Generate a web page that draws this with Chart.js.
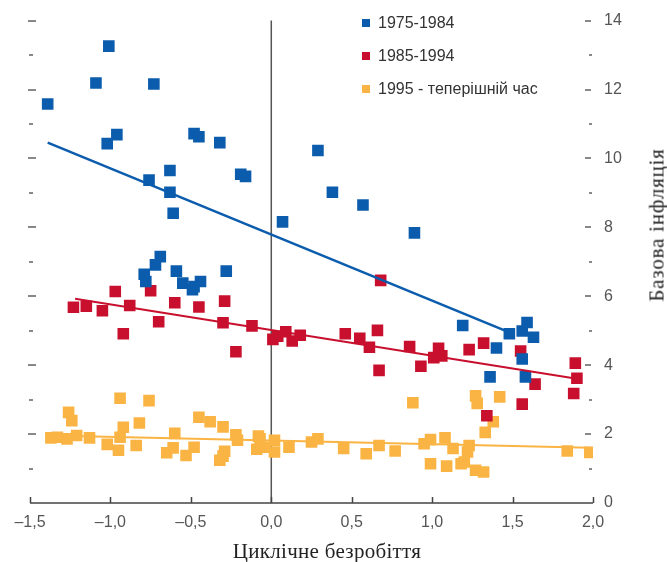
<!DOCTYPE html>
<html>
<head>
<meta charset="utf-8">
<script src="https://cdn.jsdelivr.net/npm/chart.js@4.4.1/dist/chart.umd.min.js"></script>
<style>
  html, body { margin: 0; padding: 0; background: #fff; }
  #wrap { position: relative; width: 667px; height: 562px; }
  .legend { position: absolute; left: 362px; top: 14px; font: 16px "Liberation Sans", Arial, sans-serif; color: #333; }
  .legend div { height: 33px; line-height: 18px; white-space: nowrap; }
  .legend span { display: inline-block; width: 8px; height: 8px; margin-right: 8px; vertical-align: 1px; }
  .xtitle { position: absolute; left: 0; width: 654px; top: 539px; text-align: center; font: 21px "Liberation Serif", "Times New Roman", serif; letter-spacing: 0.3px; color: #222; }
  .ytitle { position: absolute; left: 657px; top: 225px; transform: translate(-50%, -50%) rotate(-90deg); white-space: nowrap; font: 21px "Liberation Serif", "Times New Roman", serif; letter-spacing: 0.8px; color: #222; }
</style>
</head>
<body>
<div id="wrap">
  <canvas id="chart"></canvas>
  <div class="legend">
    <div><span style="background:#0b5cad"></span>1975-1984</div>
    <div><span style="background:#c8102e"></span>1985-1994</div>
    <div><span style="background:#fab444"></span>1995 - теперішній час</div>
  </div>
  <div class="xtitle">Циклічне безробіття</div>
  <div class="ytitle">Базова інфляція</div>
</div>
<script>
// 1975-1984
const blueX = [-1.39, -1.01, -1.09, -0.73, -1.02, -0.96, -0.48, -0.45, -0.32, -0.76, -0.63, -0.63, -0.61, -0.19, -0.16,
  0.29, 0.38, 0.57, 0.07, 0.89, -0.69, -0.72, -0.79, -0.78, -0.59, -0.55, -0.49, -0.48, -0.44, -0.28,
  1.19, 1.48, 1.59, 1.56, 1.63, 1.40, 1.56, 1.36, 1.58];
const blueY = [11.58, 13.26, 12.19, 12.16, 10.43, 10.69, 10.72, 10.63, 10.46, 9.37, 9.65, 9.02, 8.41, 9.54, 9.48,
  10.23, 9.02, 8.65, 8.16, 7.84, 7.15, 6.91, 6.64, 6.43, 6.73, 6.38, 6.19, 6.28, 6.43, 6.73,
  5.15, 4.91, 5.24, 4.99, 4.81, 4.50, 4.18, 3.66, 3.66];

// 1985-1994
const redX = [-1.23, -1.15, -1.05, -0.97, -0.88, -0.92, -0.75, -0.70, -0.60, -0.45, -0.29, -0.30, -0.12, -0.22,
  0.01, 0.04, 0.09, 0.13, 0.18, 0.46, 0.55, 0.61, 0.66, 0.67, 0.68, 0.86, 0.93, 1.04, 1.01, 1.06,
  1.23, 1.32, 1.55, 1.64, 1.56, 1.34, 1.89, 1.90, 1.88];
const redY = [5.68, 5.71, 5.58, 6.14, 5.73, 4.91, 6.16, 5.26, 5.81, 5.69, 5.86, 5.23, 5.14, 4.39,
  4.75, 4.84, 4.97, 4.70, 4.87, 4.91, 4.78, 4.52, 5.01, 3.85, 6.46, 4.54, 3.97, 4.49, 4.22, 4.27,
  4.45, 4.64, 4.41, 3.45, 2.87, 2.53, 4.06, 3.62, 3.18];

// 1995 - now
const yellowX = [-1.37, -1.33, -1.27, -1.26, -1.24, -1.21, -1.13, -1.02, -0.95, -0.94, -0.92, -0.94, -0.84, -0.82,
  -0.76, -0.65, -0.60, -0.61, -0.53, -0.48, -0.45, -0.38, -0.30, -0.29, -0.32, -0.30, -0.22, -0.21,
  -0.08, -0.09, -0.07, -0.04, 0.02, 0.02, 0.11, 0.25, 0.29, 0.45, 0.59, 0.67, 0.77, 0.88, 0.95,
  0.99, 0.99, 1.08, 1.09, 1.13, 1.18, 1.20, 1.22, 1.23, 1.27, 1.28, 1.27, 1.32, 1.33, 1.38, 1.42, 1.84, 1.98];
const yellowY = [1.89, 1.91, 1.86, 2.63, 2.39, 1.96, 1.89, 1.70, 1.53, 3.04, 2.20, 1.91, 1.67, 2.32,
  2.97, 1.46, 2.02, 1.60, 1.38, 1.62, 2.49, 2.36, 2.21, 1.50, 1.24, 1.36, 1.98, 1.82,
  1.94, 1.56, 1.86, 1.62, 1.82, 1.48, 1.62, 1.77, 1.86, 1.58, 1.43, 1.67, 1.51, 2.91, 1.72,
  1.84, 1.14, 1.89, 1.07, 1.58, 1.14, 1.19, 1.48, 1.67, 3.11, 2.89, 0.95, 0.90, 2.05, 2.36, 3.08, 1.51, 1.47];

// trend lines (end points)
const blueTrendX = [-1.39, 1.48];
const blueTrendY = [10.46, 4.95];
const redTrendX = [-1.22, 1.88];
const redTrendY = [5.93, 3.62];
const yellowTrendX = [-1.37, 1.98];
const yellowTrendY = [1.96, 1.60];

const xTicks = [-1.5, -1.0, -0.5, 0, 0.5, 1.0, 1.5, 2.0];
const yTicks = [0, 2, 4, 6, 8, 10, 12, 14];

const BLUE = '#0b5cad';
const RED = '#c8102e';
const YELLOW = '#fab444';
const tickFont = { family: '"Liberation Sans", Arial, sans-serif', size: 16 };

const pts = (xs, ys) => xs.map((x, i) => ({ x, y: ys[i] }));

function pointSet(label, xs, ys, color) {
  return { label, data: pts(xs, ys), backgroundColor: color, borderWidth: 0, pointStyle: 'rect', pointRadius: 8.2 };
}
function trendSet(xs, ys, color, w) {
  return { data: pts(xs, ys), showLine: true, borderColor: color, borderWidth: w, pointRadius: 0, fill: false };
}

// axis line, zero line and the little dash ticks
const axisDecor = {
  id: 'axisDecor',
  beforeDatasetsDraw(chart) {
    const { ctx, scales: { x, y } } = chart;
    const y0 = y.getPixelForValue(0);
    ctx.save();
    ctx.strokeStyle = '#555';
    ctx.lineWidth = 1.5;
    ctx.beginPath();
    ctx.moveTo(x.getPixelForValue(0), y.getPixelForValue(14));
    ctx.lineTo(x.getPixelForValue(0), y0);
    ctx.stroke();
    ctx.restore();
  },
  afterDatasetsDraw(chart) {
    const { ctx, scales: { x, y } } = chart;
    const y0 = y.getPixelForValue(0);
    const xl = x.getPixelForValue(-1.5);
    const xr = x.getPixelForValue(2);
    ctx.save();
    ctx.strokeStyle = '#444';
    ctx.lineWidth = 1.5;
    ctx.beginPath();
    ctx.moveTo(xl, y0);
    ctx.lineTo(xr, y0);
    xTicks.forEach(v => {
      const px = Math.round(x.getPixelForValue(v)) + 0.5;
      ctx.moveTo(px, y0);
      ctx.lineTo(px, y0 - 6);
    });
    ctx.stroke();
    ctx.strokeStyle = '#888';
    ctx.lineWidth = 2;
    for (let v = 1; v <= 14; v++) {
      const py = Math.round(y.getPixelForValue(v));
      const major = v % 2 === 0;
      ctx.beginPath();
      ctx.moveTo(major ? xl - 2 : xl - 1, py);
      ctx.lineTo(major ? xl + 6 : xl + 3, py);
      ctx.moveTo(major ? xr - 8 : xr - 4, py);
      ctx.lineTo(major ? xr - 2 : xr - 1, py);
      ctx.stroke();
    }
    ctx.restore();
  }
};

new Chart(document.getElementById('chart'), {
  type: 'scatter',
  data: {
    datasets: [
      trendSet(blueTrendX, blueTrendY, BLUE, 2.5),
      trendSet(redTrendX, redTrendY, RED, 2),
      trendSet(yellowTrendX, yellowTrendY, YELLOW, 2),
      pointSet('1975-1984', blueX, blueY, BLUE),
      pointSet('1985-1994', redX, redY, RED),
      pointSet('1995 - теперішній час', yellowX, yellowY, YELLOW)
    ]
  },
  options: {
    responsive: true,
    maintainAspectRatio: false,
    animation: false,
    layout: { padding: { left: 30, top: 17, right: 0, bottom: 0 } },
    plugins: { legend: { display: false }, tooltip: { enabled: false } },
    scales: {
      x: {
        type: 'linear',
        position: 'bottom',
        min: -1.5,
        max: 2,
        afterBuildTicks: s => { s.ticks = xTicks.map(v => ({ value: v })); },
        afterFit: s => { s.height = 59; },
        grid: { display: false, drawTicks: false },
        border: { display: false },
        ticks: {
          padding: 10,
          color: '#555',
          font: tickFont,
          maxRotation: 0,
          callback: v => (v < 0 ? '–' : '') + Math.abs(v).toFixed(1).replace('.', ',')
        }
      },
      y: {
        type: 'linear',
        position: 'right',
        min: 0,
        max: 14,
        afterBuildTicks: s => { s.ticks = yTicks.map(v => ({ value: v })); },
        afterFit: s => { s.width = 74; },
        grid: { display: false, drawTicks: false },
        border: { display: false },
        ticks: { padding: 11, color: '#555', font: tickFont }
      }
    }
  },
  plugins: [axisDecor]
});
</script>
</body>
</html>
